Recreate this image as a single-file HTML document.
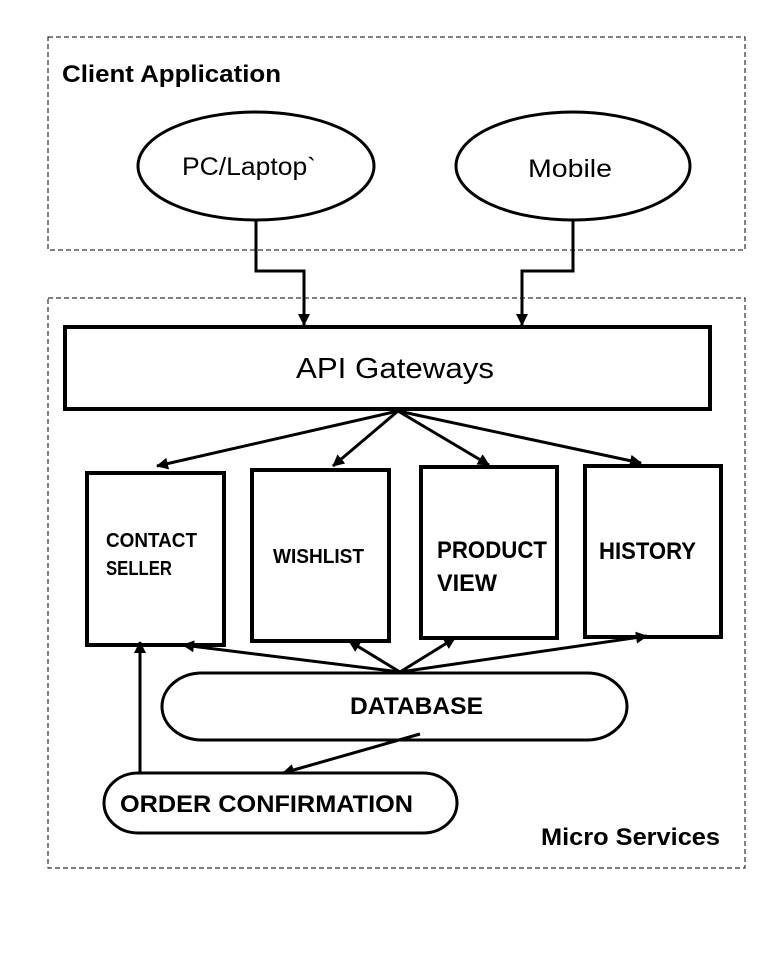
<!DOCTYPE html>
<html><head><meta charset="utf-8"><style>
body{margin:0;background:#fff;}
svg{display:block;}
text{font-family:"Liberation Sans",sans-serif;fill:#000;}
</style></head><body>
<svg width="776" height="965" viewBox="0 0 776 965" xmlns="http://www.w3.org/2000/svg">
<defs>
<marker id="b" markerWidth="12" markerHeight="12" refX="11" refY="6" orient="auto" markerUnits="userSpaceOnUse"><path d="M0,0 L12,6 L0,12 Z" fill="#000"/></marker>
</defs>
<rect x="48" y="37" width="697" height="213" fill="none" stroke="#000" stroke-width="1" stroke-dasharray="5,3"/>
<rect x="48" y="298" width="697" height="570" fill="none" stroke="#000" stroke-width="1" stroke-dasharray="5,3"/>
<text x="62" y="82" font-size="24" font-weight="bold" textLength="219" lengthAdjust="spacingAndGlyphs">Client Application</text>
<text x="541" y="845" font-size="24" font-weight="bold" textLength="179" lengthAdjust="spacingAndGlyphs">Micro Services</text>
<ellipse cx="256" cy="166" rx="118" ry="54" fill="#fff" stroke="#000" stroke-width="3"/>
<text x="182" y="175" font-size="25" textLength="134" lengthAdjust="spacingAndGlyphs">PC/Laptop`</text>
<ellipse cx="573" cy="166" rx="117" ry="54" fill="#fff" stroke="#000" stroke-width="3"/>
<text x="528" y="177" font-size="25" textLength="84" lengthAdjust="spacingAndGlyphs">Mobile</text>
<polyline points="256,220 256,271 304,271 304,325" fill="none" stroke="#000" stroke-width="3" marker-end="url(#b)"/>
<polyline points="573,220 573,271 522,271 522,325" fill="none" stroke="#000" stroke-width="3" marker-end="url(#b)"/>
<rect x="65" y="327" width="645" height="82" fill="#fff" stroke="#000" stroke-width="4"/>
<text x="296" y="378" font-size="29" textLength="198" lengthAdjust="spacingAndGlyphs">API Gateways</text>
<g stroke="#000" stroke-width="3" fill="none" marker-end="url(#b)">
<line x1="398" y1="411" x2="157" y2="466"/>
<line x1="398" y1="411" x2="333" y2="466"/>
<line x1="398" y1="411" x2="489" y2="465"/>
<line x1="398" y1="411" x2="641" y2="463"/>
</g>
<g fill="#fff" stroke="#000" stroke-width="4">
<rect x="87" y="473" width="137" height="172"/>
<rect x="252" y="470" width="137" height="171"/>
<rect x="421" y="467" width="136" height="171"/>
<rect x="585" y="466" width="136" height="171"/>
</g>
<g font-weight="bold">
<text x="106" y="547" font-size="20" textLength="91" lengthAdjust="spacingAndGlyphs">CONTACT</text>
<text x="106" y="575" font-size="20" textLength="66" lengthAdjust="spacingAndGlyphs">SELLER</text>
<text x="273" y="563" font-size="20" textLength="91" lengthAdjust="spacingAndGlyphs">WISHLIST</text>
<text x="437" y="558" font-size="24" textLength="110" lengthAdjust="spacingAndGlyphs">PRODUCT</text>
<text x="437" y="591" font-size="24" textLength="60" lengthAdjust="spacingAndGlyphs">VIEW</text>
<text x="599" y="559" font-size="24" textLength="97" lengthAdjust="spacingAndGlyphs">HISTORY</text>
</g>
<g stroke="#000" stroke-width="3" fill="none" marker-end="url(#b)">
<line x1="400" y1="672" x2="183" y2="645"/>
<line x1="400" y1="672" x2="349" y2="641"/>
<line x1="400" y1="672" x2="455" y2="638"/>
<line x1="400" y1="672" x2="647" y2="636"/>
</g>
<rect x="162" y="673" width="465" height="67" rx="40" ry="34" fill="#fff" stroke="#000" stroke-width="3"/>
<text x="350" y="714" font-size="24" font-weight="bold" textLength="133" lengthAdjust="spacingAndGlyphs">DATABASE</text>
<line x1="420" y1="734" x2="283" y2="773" stroke="#000" stroke-width="3" marker-end="url(#b)"/>
<line x1="140" y1="773" x2="140" y2="642" stroke="#000" stroke-width="3" marker-end="url(#b)"/>
<rect x="104" y="773" width="353" height="60" rx="34" ry="30" fill="#fff" stroke="#000" stroke-width="3"/>
<text x="120" y="812" font-size="24" font-weight="bold" textLength="293" lengthAdjust="spacingAndGlyphs">ORDER CONFIRMATION</text>
</svg>
</body></html>
